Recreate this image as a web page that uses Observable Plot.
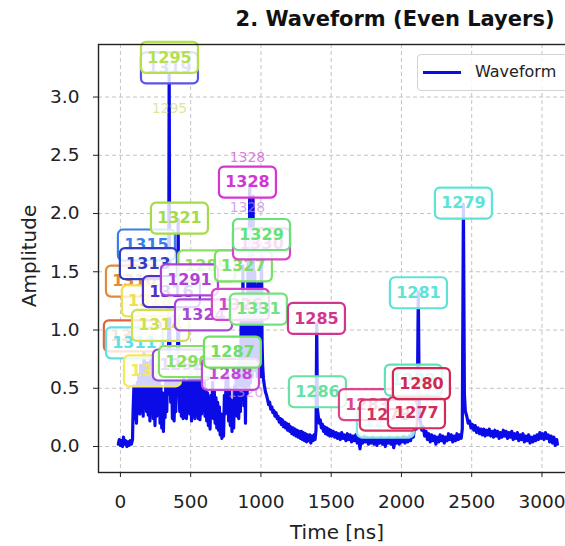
<!DOCTYPE html>
<html><head><meta charset="utf-8">
<script src="https://cdn.jsdelivr.net/npm/d3@7"></script>
<script src="https://cdn.jsdelivr.net/npm/@observablehq/plot@0.6"></script>
<style>
html,body{margin:0;padding:0;background:#fff;overflow:hidden;}
#wrap{position:relative;width:565px;height:546px;overflow:hidden;font-family:"DejaVu Sans",sans-serif;color:#222;}
#chart{position:absolute;left:0;top:0;width:620px;}
#chart svg{max-width:none !important;width:620px !important;height:546px !important;}
#chart svg [aria-label$="tick label"]{font-size:18.5px;}
#chart svg [aria-label$="tick label"] text{font-size:18.5px;}
#title{position:absolute;top:6px;left:95px;width:600px;text-align:center;font-weight:bold;font-size:21px;line-height:26px;color:#111;}
#xlabel{position:absolute;top:519px;left:237px;width:200px;text-align:center;font-size:20px;line-height:26px;}
#ylabel{position:absolute;left:29px;top:256px;transform:translate(-50%,-50%) rotate(-90deg);font-size:20px;line-height:26px;white-space:nowrap;}
#legend{position:absolute;left:417px;top:54px;width:170px;height:35px;border:1px solid #d3d3d3;border-radius:4px;background:rgba(255,255,255,0.85);}
#legend .sw{position:absolute;left:5px;top:16px;width:38px;height:3px;background:#0b0be8;}
#legend .tx{position:absolute;left:57px;top:6px;font-size:16px;line-height:22px;}
</style>
</head><body>
<div id="wrap">
  <div id="chart"></div>
  <div id="title">2. Waveform (Even Layers)</div>
  <div id="legend"><div class="sw"></div><div class="tx">Waveform</div></div>
  <div id="xlabel">Time [ns]</div>
  <div id="ylabel">Amplitude</div>
</div>
<script>
// ---- data ----
const xTicks = [0, 500, 1000, 1500, 2000, 2500, 3000];
const yTicks = [0, 0.5, 1.0, 1.5, 2.0, 2.5, 3.0];

// waveform samples [time ns, amplitude]
const waveform = [
[-15,0.02],[-8,0.06],[0,0.01],[8,0.05],[15,0.0],[22,0.08],[30,0.02],[38,0.05],[46,0.0],[54,0.04],[62,0.01],[70,0.05],[78,0.02],[86,0.06],
[90,0.30],[96,0.52],[102,0.24],[108,0.48],[114,0.20],[120,0.55],[126,0.32],[132,0.62],[138,0.28],[144,0.70],[150,0.30],[156,0.58],[162,0.26],[168,0.80],[174,0.35],[180,0.66],[186,0.30],[192,0.72],[198,0.27],[204,0.60],[210,0.22],[216,0.75],[222,0.34],[228,0.56],[234,0.24],[240,0.64],[246,0.18],[252,0.50],[258,0.26],[264,0.68],[270,0.30],[276,0.58],[282,0.20],[288,0.52],[294,0.16],[300,0.46],[306,0.13],[312,0.42],[318,0.25],[324,0.60],[330,0.30],[336,0.72],[342,0.45],[347,3.30],[352,0.65],[358,0.38],[364,0.60],[370,0.24],[376,0.55],[382,0.22],[388,0.50],[394,0.30],[400,0.66],[406,0.45],[411,1.95],[416,0.55],[422,0.30],[428,0.58],[434,0.26],[440,0.52],[446,0.24],[452,0.60],[458,0.25],[464,0.56],[470,0.24],[476,0.48],[482,0.30],[488,0.62],[494,0.28],[500,0.70],[506,0.22],[512,0.54],[518,0.27],[524,0.58],[530,0.24],[536,0.50],[542,0.30],[548,0.66],[554,0.24],[560,0.52],[566,0.23],[572,0.60],[578,0.28],[584,0.55],[590,0.32],[596,0.64],[602,0.26],[608,0.50],[614,0.22],[620,0.46],[626,0.18],[632,0.40],[638,0.15],[644,0.44],[650,0.26],[656,0.55],[662,0.24],[668,0.48],[674,0.20],[680,0.42],[686,0.16],[692,0.38],[698,0.14],[704,0.34],[710,0.10],[716,0.28],[722,0.07],[728,0.20],[734,0.09],[740,0.44],[746,0.28],[752,0.58],[758,0.30],[764,0.62],[770,0.22],[776,0.50],[782,0.18],[788,0.40],[794,0.13],[800,0.36],[806,0.16],[812,0.52],[818,0.30],[824,0.62],[830,0.26],[836,0.70],[842,0.24],[848,0.85],[854,0.30],[860,1.20],[866,0.40],[872,1.55],[878,0.35],[884,0.70],[890,0.20],[896,1.10],[902,0.45],[908,1.60],[914,0.50],[920,2.25],[926,0.55],[932,1.90],[938,0.60],[944,2.15],[950,0.70],[956,1.50],[962,0.65],[968,1.30],[974,0.60],[980,1.40],[986,0.70],[992,1.15],[998,0.60],[1004,1.75],[1008,0.90],[1012,0.70],[1018,0.58],
[1025,0.52],[1032,0.47],[1040,0.44],[1048,0.40],[1055,0.36],[1062,0.38],[1070,0.32],[1078,0.34],[1085,0.29],[1092,0.31],[1100,0.26],[1108,0.29],[1115,0.24],[1122,0.26],[1130,0.21],[1138,0.24],[1145,0.19],[1152,0.23],[1160,0.17],[1168,0.21],[1175,0.16],[1182,0.20],[1190,0.14],[1198,0.19],[1205,0.13],[1212,0.17],[1220,0.11],[1228,0.16],[1235,0.10],[1242,0.15],[1250,0.09],[1258,0.14],[1265,0.08],[1272,0.13],[1280,0.07],[1288,0.13],[1295,0.06],[1302,0.12],[1310,0.05],[1318,0.11],[1325,0.04],[1332,0.10],[1340,0.05],[1348,0.10],[1355,0.03],[1362,0.09],[1370,0.05],[1378,0.10],[1385,0.06],[1392,0.14],[1397,1.05],[1402,0.32],[1408,0.26],[1415,0.20],[1422,0.23],[1430,0.16],[1438,0.19],[1445,0.13],[1452,0.17],[1460,0.11],[1468,0.16],[1475,0.10],[1482,0.15],[1490,0.09],[1498,0.14],
[1505,0.09],[1515,0.13],[1525,0.08],[1535,0.12],[1545,0.07],[1555,0.11],[1565,0.06],[1575,0.12],[1585,0.07],[1595,0.10],[1605,0.05],[1615,0.11],[1625,0.06],[1635,0.10],[1645,0.04],[1655,0.09],[1665,0.05],[1675,0.10],[1685,0.03],[1695,0.08],[1705,-0.02],[1715,0.07],[1725,0.03],[1735,0.09],[1745,0.04],[1755,0.08],[1765,0.02],[1775,0.07],[1785,0.03],[1795,0.08],[1805,0.02],[1815,0.06],[1825,0.01],[1835,0.07],[1845,0.03],[1855,0.08],[1865,0.02],[1875,0.06],[1885,0.00],[1895,0.07],[1905,0.03],[1915,0.08],[1925,0.02],[1935,0.06],[1945,-0.01],[1955,0.06],[1965,0.03],[1975,0.08],[1985,0.02],[1995,0.07],[2005,0.04],[2015,0.09],[2025,0.03],[2035,0.08],[2045,0.04],[2055,0.09],[2065,0.05],[2075,0.12],[2085,0.08],[2095,0.20],[2105,0.15],[2112,0.25],[2120,1.33],[2127,0.30],[2135,0.22],[2145,0.14],[2155,0.17],[2165,0.09],[2175,0.13],
[2185,0.06],[2195,0.11],[2205,0.04],[2215,0.10],[2225,0.05],[2235,0.09],[2245,0.02],[2255,0.08],[2265,0.04],[2275,0.10],[2285,0.05],[2295,0.09],[2305,0.03],[2315,0.08],[2325,0.05],[2335,0.11],[2345,0.06],[2355,0.10],[2365,0.04],[2375,0.09],[2385,0.05],[2395,0.11],[2405,0.06],[2415,0.10],[2425,0.07],[2433,0.15],[2441,2.08],[2448,0.45],[2455,0.30],[2465,0.26],[2475,0.20],[2485,0.22],[2495,0.16],[2505,0.19],[2515,0.14],[2525,0.18],[2535,0.12],[2545,0.16],[2555,0.11],[2565,0.15],[2575,0.10],[2585,0.15],[2595,0.09],[2605,0.14],[2615,0.10],[2625,0.15],[2635,0.09],[2645,0.13],[2655,0.08],[2665,0.14],[2675,0.09],[2685,0.13],[2695,0.07],[2705,0.12],[2715,0.08],[2725,0.14],[2735,0.09],[2745,0.13],[2755,0.07],[2765,0.12],[2775,0.08],[2785,0.13],[2795,0.06],[2805,0.11],[2815,0.07],[2825,0.12],[2835,0.05],[2845,0.10],[2855,0.06],[2865,0.11],[2875,0.04],[2885,0.09],[2895,0.05],[2905,0.10],[2915,0.03],[2925,0.08],[2935,0.04],[2945,0.09],[2955,0.05],[2965,0.10],[2975,0.06],[2985,0.12],[2995,0.07],[3005,0.11],[3015,0.06],[3025,0.12],[3035,0.07],[3045,0.10],[3055,0.04],[3065,0.09],[3075,0.03],[3085,0.08],[3095,0.01],[3105,0.06],[3110,0.02]
];

// boxed channel labels, drawn back to front
const labelIds    = ["1310","1309","1311","1312","1318","1315","1313","1316","1314","1292","1290","1321","1289","1291","1327","1324","1326","1331","1330","1329","1328","1288","1287","1319","1295","1285","1286","1284","1283","1278","1282","1277","1280","1281","1279"];
const labelTimes  = [100,85,100,228,213,185,199,363,285,434,477,420,612,491,875,591,854,982,1004,1004,904,783,797,349,349,1395,1402,1886,1758,1907,2085,2107,2142,2121,2441];
const labelAmps   = [1.42,0.95,0.89,0.65,1.25,1.73,1.57,1.33,1.04,0.70,0.73,1.96,1.55,1.43,1.55,1.13,1.22,1.18,1.74,1.82,2.27,0.62,0.81,3.25,3.34,1.10,0.47,0.21,0.36,0.27,0.57,0.29,0.54,1.32,2.09];
const labelColors = ["#e08a3a","#e0643a","#5ee0e6","#f4e860","#eee050","#3a7ee8","#2f3ec0","#5030c8","#cfe04c","#8850d8","#84e060","#a5dc45","#8ee060","#b040d8","#78e064","#a848d8","#d048c8","#74e27e","#d548c8","#66e27a","#d535d5","#c448d8","#70e060","#5a55e6","#b4e04f","#d0368e","#66e2a2","#7ee6e2","#e0458c","#d23462","#62e2b4","#d22c5c","#d22852","#5fe3d6","#5fe3d6"];

// faint unboxed labels
const noteIds    = ["1295","1328","1328","1320"];
const noteTimes  = [349, 904, 904, 890];
const noteAmps   = [2.90, 2.48, 2.05, 0.46];
const noteColors = ["#c8e070","#d040d0","#c080e0","#d090e0"];

// ---- build ----
const labels = labelIds.map((id, i) => ({id, t: labelTimes[i], a: labelAmps[i], c: labelColors[i]}));
const notes = noteIds.map((id, i) => ({id, t: noteTimes[i], a: noteAmps[i], c: noteColors[i]}));

const boxSymbol = {
  draw(ctx) {
    const w = 28.5, h = 15.5, r = 5;
    ctx.moveTo(-w + r, -h);
    ctx.lineTo(w - r, -h);
    ctx.arcTo(w, -h, w, -h + r, r);
    ctx.lineTo(w, h - r);
    ctx.arcTo(w, h, w - r, h, r);
    ctx.lineTo(-w + r, h);
    ctx.arcTo(-w, h, -w, h - r, r);
    ctx.lineTo(-w, -h + r);
    ctx.arcTo(-w, -h, -w + r, -h, r);
    ctx.closePath();
  }
};

const labelMarks = labels.flatMap(l => [
  Plot.dot([l], {x: "t", y: "a", symbol: boxSymbol, fill: "white", fillOpacity: 0.82, stroke: l.c, strokeWidth: 2.2}),
  Plot.text([l], {x: "t", y: "a", text: "id", fill: l.c, fontSize: 16, fontWeight: "bold"})
]);

const chart = Plot.plot({
  width: 620,
  height: 546,
  marginLeft: 98,
  marginRight: 0,
  marginTop: 44,
  marginBottom: 74,
  style: "font-family:'DejaVu Sans',sans-serif;font-size:18.5px;color:#222;background:white;max-width:none;",
  x: {domain: [-156, 3559], ticks: xTicks, tickFormat: "d", tickSize: 5, tickPadding: 17, label: null},
  y: {domain: [-0.223, 3.451], ticks: yTicks, tickFormat: ".1f", tickSize: 5, tickPadding: 14, label: null},
  marks: [
    Plot.ruleX(xTicks, {stroke: "#c4c4c4", strokeDasharray: "4,3", strokeWidth: 1}),
    Plot.ruleY(yTicks, {stroke: "#c4c4c4", strokeDasharray: "4,3", strokeWidth: 1}),
    Plot.line(waveform, {x: d => d[0], y: d => d[1], stroke: "#0b0be8", strokeWidth: 3.2, strokeLinejoin: "round"}),
    ...notes.map(n => Plot.text([n], {x: "t", y: "a", text: "id", fill: n.c, fillOpacity: 0.7, fontSize: 14})),
    ...labelMarks,
    Plot.frame({stroke: "#222", strokeWidth: 1.4})
  ]
});
document.getElementById("chart").appendChild(chart);
</script>
</body></html>
